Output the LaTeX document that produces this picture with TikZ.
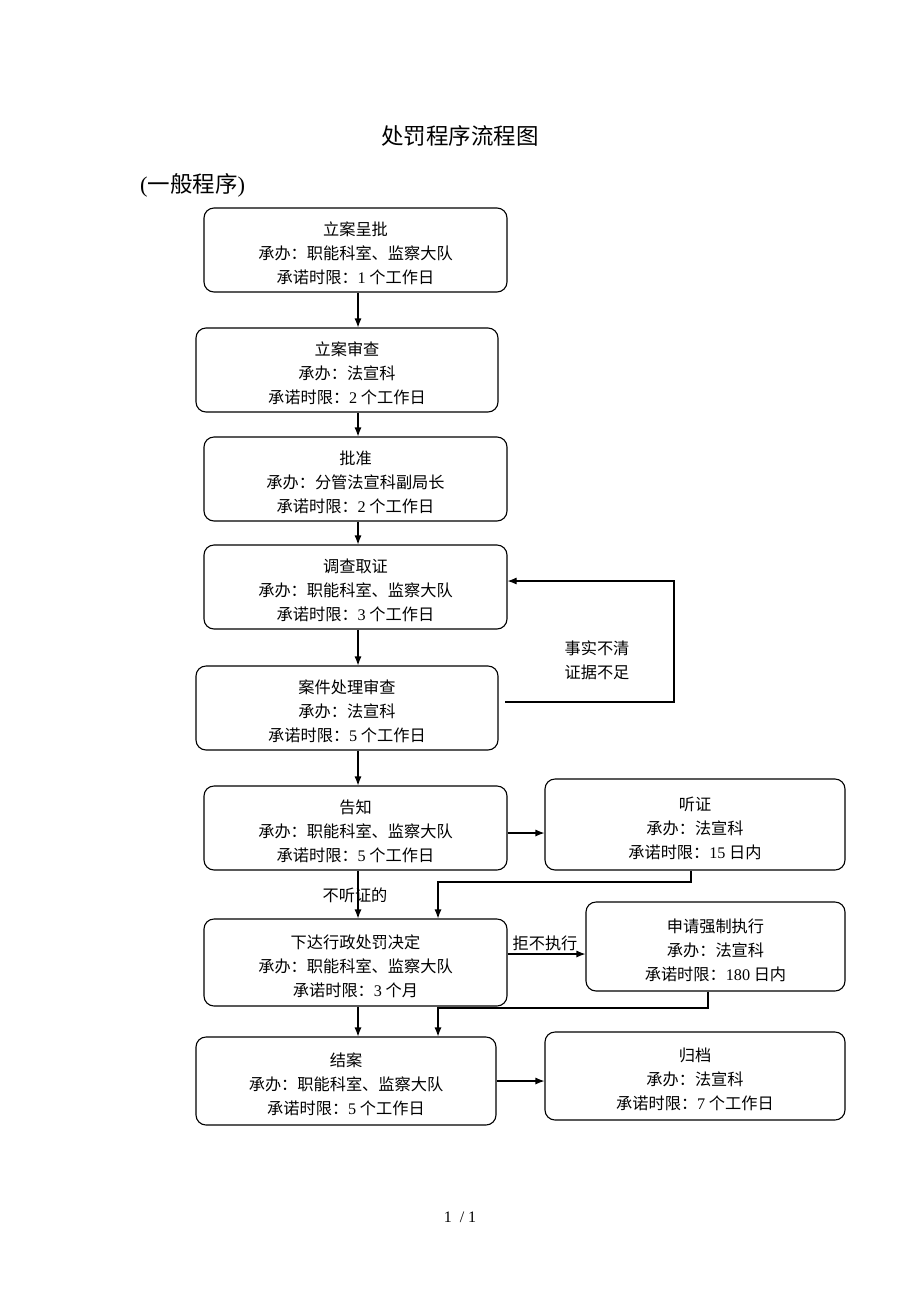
\documentclass[tikz,border=0pt]{standalone}
\usepackage{fontspec}
\setmainfont{Liberation Serif}
\newfontfamily\cjk{Noto Sans CJK SC}
\usetikzlibrary{arrows.meta,calc}
\newcommand{\dg}[1]{{\rmfamily #1}}
% \bx{name}{cx}{cy}{w}{h}{text}
\newcommand{\bx}[6]{%
  \node[box,minimum width=#4pt,minimum height=#5pt] (#1) at (#2,#3) {};
  \node[txt] (#1t) at ($(#1)+(0,3.5)$) {#6};}
\begin{document}
\begin{tikzpicture}[x=1pt,y=-1pt,
  box/.style={draw,line width=1.1pt,rounded corners=10pt,inner sep=0pt},
  txt/.style={inner sep=0pt,align=center,font=\cjk\fontsize{16.2}{24}\selectfont},
  arr/.style={line width=1.1pt,-{Latex[length=9pt,width=7pt]}},
  lbl/.style={inner sep=0pt,align=center,font=\cjk\fontsize{16.2}{24}\selectfont}]
\fill[white] (0,0) rectangle (920,1302);
\useasboundingbox (0,0) rectangle (920,1302);
\node[font=\cjk\fontsize{22.5}{26}\selectfont,inner sep=0pt] (title) at (460,136) {处罚程序流程图};
\node[font=\fontsize{22.5}{26}\selectfont,inner sep=0pt,anchor=west] (sub) at (140,185) {(\cjk 一般程序\rmfamily)};
\bx{b1}{355.5}{250}{303}{84}{立案呈批\\承办：职能科室、监察大队\\承诺时限：\dg{1} 个工作日}
\bx{b2}{347}{370}{302}{84}{立案审查\\承办：法宣科\\承诺时限：\dg{2} 个工作日}
\bx{b3}{355.5}{479}{303}{84}{批准\\承办：分管法宣科副局长\\承诺时限：\dg{2} 个工作日}
\bx{b4}{355.5}{587}{303}{84}{调查取证\\承办：职能科室、监察大队\\承诺时限：\dg{3} 个工作日}
\bx{b5}{347}{708}{302}{84}{案件处理审查\\承办：法宣科\\承诺时限：\dg{5} 个工作日}
\bx{b6}{355.5}{828}{303}{84}{告知\\承办：职能科室、监察大队\\承诺时限：\dg{5} 个工作日}
\bx{b7}{695}{824.5}{300}{91}{听证\\承办：法宣科\\承诺时限：\dg{15} 日内}
\bx{b8}{355.5}{962.5}{303}{87}{下达行政处罚决定\\承办：职能科室、监察大队\\承诺时限：\dg{3} 个月}
\bx{b9}{715.5}{946.5}{259}{89}{申请强制执行\\承办：法宣科\\承诺时限：\dg{180} 日内}
\bx{b10}{346}{1081}{300}{88}{结案\\承办：职能科室、监察大队\\承诺时限：\dg{5} 个工作日}
\bx{b11}{695}{1076}{300}{88}{归档\\承办：法宣科\\承诺时限：\dg{7} 个工作日}
\coordinate (vx) at (358,0);
\coordinate (vy) at (438,0);
\draw[arr] (b1.south -| vx) -- (b2.north -| vx);
\draw[arr] (b2.south -| vx) -- (b3.north -| vx);
\draw[arr] (b3.south -| vx) -- (b4.north -| vx);
\draw[arr] (b4.south -| vx) -- (b5.north -| vx);
\draw[arr] (b5.south -| vx) -- (b6.north -| vx);
\draw[arr] (b6.south -| vx) -- (b8.north -| vx);
\draw[arr] (b8.south -| vx) -- (b10.north -| vx);
\node[lbl] (l1) at (355,895) {不听证的};
% feedback loop
\coordinate (fb1) at (505,702);
\coordinate (fb2) at (674,702);
\coordinate (fb3) at (674,581);
\draw[arr] (fb1) -- (fb2) -- (fb3) -- (b4.east |- fb3);
\node[lbl] (l2) at (597,660) {事实不清\\证据不足};
% hearing
\draw[arr] (b6.east |- 0,833) -- (b7.west |- 0,833);
\coordinate (h1) at (691,882);
\draw[arr] (b7.south -| h1) -- (h1) -- (h1 -| vy) -- (b8.north -| vy);
% enforcement
\draw[arr] (b8.east |- 0,954) -- (b9.west |- 0,954);
\node[lbl] (l3) at (545,943) {拒不执行};
\coordinate (e1) at (708,1008);
\draw[arr] (b9.south -| e1) -- (e1) -- (e1 -| vy) -- (b10.north -| vy);
% archive
\draw[arr] (b10.east |- 0,1081) -- (b11.west |- 0,1081);
\node[font=\fontsize{16}{18}\selectfont,inner sep=0pt] (page) at (460,1217) {1\ \ / 1};
\end{tikzpicture}
\end{document}
